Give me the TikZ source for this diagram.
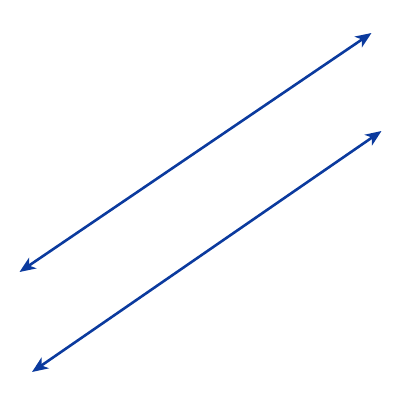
\documentclass[tikz,border=0pt]{standalone}
\usetikzlibrary{arrows.meta}
\definecolor{lineblue}{HTML}{0B3A9E}
\begin{document}
\begin{tikzpicture}[x=1pt,y=-1pt,
  dblarrow/.style={draw=lineblue, line width=2.6pt, {Stealth[length=16pt,width=13pt,inset=4.5pt]}-{Stealth[length=16pt,width=13pt,inset=4.5pt]}}]
\useasboundingbox (0,0) rectangle (400,400);
\coordinate (a1) at (19.5,272);
\coordinate (b1) at (371.5,33);
\coordinate (a2) at (32,372);
\coordinate (b2) at (381.5,131);
\draw[dblarrow] (a1) -- (b1);
\draw[dblarrow] (a2) -- (b2);
\end{tikzpicture}
\end{document}
